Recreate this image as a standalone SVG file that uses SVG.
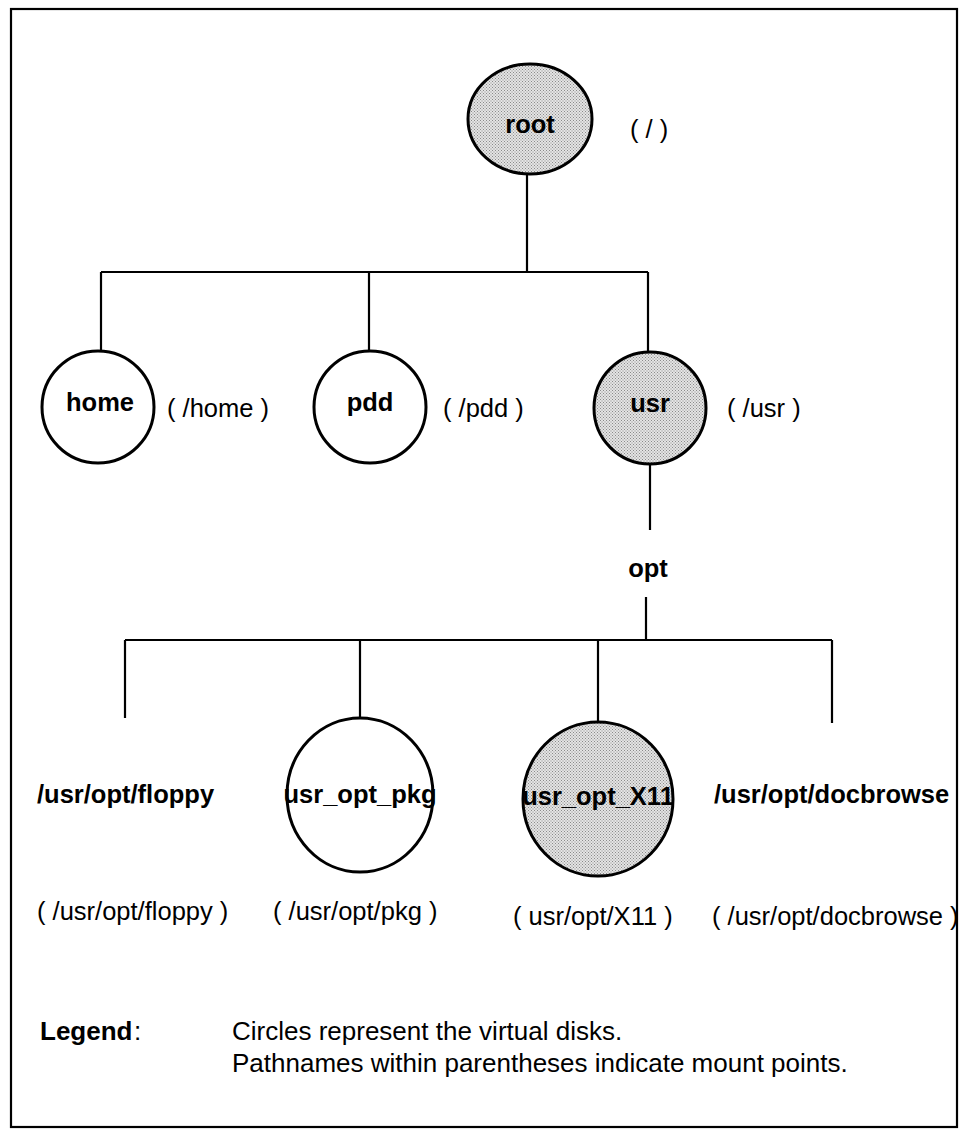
<svg xmlns="http://www.w3.org/2000/svg" width="959" height="1130" viewBox="0 0 959 1130">
<defs>
<pattern id="dots" width="3" height="3" patternUnits="userSpaceOnUse">
<rect width="3" height="3" fill="#e4e4e4"/>
<rect x="0" y="0" width="1" height="1" fill="#8a8a8a"/>
<rect x="1.5" y="1.5" width="1" height="1" fill="#8a8a8a"/>
</pattern>
</defs>
<style>
.disk{fill:#fff;stroke:#000;stroke-width:3}
.gray{fill:url(#dots)}
.conn{fill:none;stroke:#000;stroke-width:2.2}
.b{font-family:"Liberation Sans",Arial,sans-serif;font-weight:bold;font-size:25.5px;fill:#000}
.r{font-family:"Liberation Sans",Arial,sans-serif;font-size:25.5px;fill:#000}
.l{font-size:26px}
.c{text-anchor:middle}
</style>
<rect width="959" height="1130" fill="#fff"/>
<rect x="11" y="9" width="946" height="1118" fill="none" stroke="#000" stroke-width="2.2"/>
<g id="connectors">
<path class="conn" d="M527 173 V272 M101 272 H648 M101 272 V350 M369 272 V350 M648 272 V352"/>
<path class="conn" d="M650 464 V530 M646 597 V640 M125 640 H832 M125 640 V718 M360 640 V718 M598 640 V722 M832 640 V723"/>
</g>
<g id="root">
<ellipse class="disk gray" cx="530" cy="119" rx="62" ry="55"/>
<text class="b c" x="530" y="133">root</text>
<text class="r" x="630" y="138">( / )</text>
</g>
<g id="home">
<circle class="disk" cx="98" cy="407" r="56"/>
<text class="b c" x="100" y="411">home</text>
<text class="r" x="167" y="417">( /home )</text>
</g>
<g id="pdd">
<circle class="disk" cx="370" cy="407" r="56"/>
<text class="b c" x="370" y="411">pdd</text>
<text class="r" x="443" y="417">( /pdd )</text>
</g>
<g id="usr">
<circle class="disk gray" cx="650" cy="408" r="56"/>
<text class="b c" x="650" y="412">usr</text>
<text class="r" x="727" y="417">( /usr )</text>
</g>
<g id="opt">
<text class="b c" x="648" y="577">opt</text>
</g>
<g id="floppy">
<text class="b" x="37" y="803">/usr/opt/floppy</text>
<text class="r" x="37" y="920">( /usr/opt/floppy )</text>
</g>
<g id="usr_opt_pkg">
<ellipse class="disk" cx="360" cy="795" rx="73" ry="77"/>
<text class="b c" x="360" y="803">usr_opt_pkg</text>
<text class="r" x="273" y="920">( /usr/opt/pkg )</text>
</g>
<g id="usr_opt_X11">
<ellipse class="disk gray" cx="598" cy="799" rx="75" ry="77"/>
<text class="b c" x="598" y="805">usr_opt_X11</text>
<text class="r" x="513" y="925">( usr/opt/X11 )</text>
</g>
<g id="docbrowse">
<text class="b" x="714" y="803">/usr/opt/docbrowse</text>
<text class="r" x="712" y="925">( /usr/opt/docbrowse )</text>
</g>
<g id="legend">
<text class="b l" x="40" y="1040">Legend</text>
<text class="r l" x="134" y="1040">:</text>
<text class="r l" x="232" y="1040">Circles represent the virtual disks.</text>
<text class="r l" x="232" y="1072">Pathnames within parentheses indicate mount points.</text>
</g>
</svg>
